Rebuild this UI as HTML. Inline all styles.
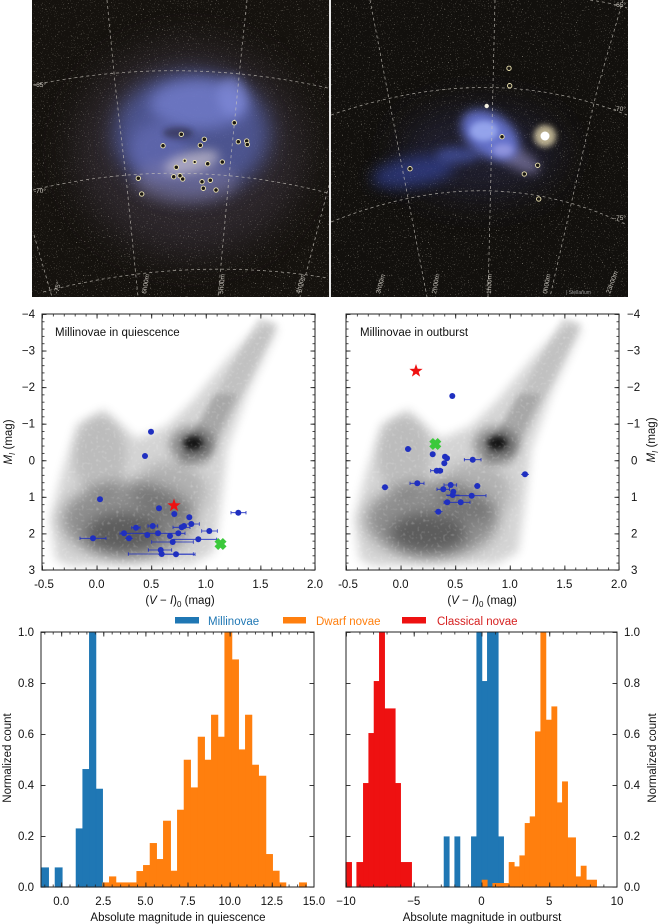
<!DOCTYPE html>
<html><head><meta charset="utf-8"><style>
html,body{margin:0;padding:0;background:#fff;}
svg{display:block;}
text{font-family:"Liberation Sans",Arial,sans-serif;}
</style></head><body>
<svg width="660" height="924" viewBox="0 0 660 924" xmlns="http://www.w3.org/2000/svg">
<defs>
<filter id="b3" x="-50%" y="-50%" width="200%" height="200%"><feGaussianBlur stdDeviation="3"/></filter>
<filter id="b5" x="-50%" y="-50%" width="200%" height="200%"><feGaussianBlur stdDeviation="5"/></filter>
<filter id="b7" x="-50%" y="-50%" width="200%" height="200%"><feGaussianBlur stdDeviation="7"/></filter>
<filter id="b10" x="-50%" y="-50%" width="200%" height="200%"><feGaussianBlur stdDeviation="10"/></filter>
<filter id="b18" x="-50%" y="-50%" width="200%" height="200%"><feGaussianBlur stdDeviation="18"/></filter>
<filter id="stars" x="0" y="0" width="1" height="1">
<feTurbulence type="fractalNoise" baseFrequency="0.85" numOctaves="1" seed="7" result="n"/>
<feColorMatrix in="n" type="matrix" values="0 0 0 0 0.85  0 0 0 0 0.8  0 0 0 0 0.68  6 0 0 0 -3.85"/>
</filter>
<filter id="spk" x="0" y="0" width="1" height="1">
<feTurbulence type="fractalNoise" baseFrequency="0.35" numOctaves="1" seed="3" result="n"/>
<feColorMatrix in="n" type="matrix" values="0 0 0 0 1  0 0 0 0 1  0 0 0 0 1  2.2 0 0 0 -1.2"/>
</filter>
<clipPath id="c1"><rect x="32" y="0" width="297" height="297"/></clipPath>
<clipPath id="c2"><rect x="331" y="0" width="297" height="297"/></clipPath>
<clipPath id="cf"><rect x="0" y="0" width="273" height="256"/></clipPath>

<pattern id="cx1" patternUnits="userSpaceOnUse" x="42" y="0" width="10.92" height="20"><rect width="0.8" height="20" fill="#222"/></pattern>
<pattern id="cx1M" patternUnits="userSpaceOnUse" x="42" y="0" width="54.6" height="20"><rect width="0.9" height="20" fill="#222"/></pattern>
<pattern id="cx2" patternUnits="userSpaceOnUse" x="346" y="0" width="10.92" height="20"><rect width="0.8" height="20" fill="#222"/></pattern>
<pattern id="cx2M" patternUnits="userSpaceOnUse" x="346" y="0" width="54.6" height="20"><rect width="0.9" height="20" fill="#222"/></pattern>
<pattern id="cy" patternUnits="userSpaceOnUse" x="0" y="314" width="20" height="7.314"><rect width="20" height="0.8" fill="#222"/></pattern>
<pattern id="cyM" patternUnits="userSpaceOnUse" x="0" y="314" width="20" height="36.57"><rect width="20" height="0.9" fill="#222"/></pattern>
<pattern id="hx1" patternUnits="userSpaceOnUse" x="61.2" y="0" width="8.425" height="20"><rect width="0.8" height="20" fill="#222"/></pattern>
<pattern id="hx1M" patternUnits="userSpaceOnUse" x="61.2" y="0" width="42.12" height="20"><rect width="0.9" height="20" fill="#222"/></pattern>
<pattern id="hx2" patternUnits="userSpaceOnUse" x="346" y="0" width="13.55" height="20"><rect width="0.8" height="20" fill="#222"/></pattern>
<pattern id="hx2M" patternUnits="userSpaceOnUse" x="346" y="0" width="67.75" height="20"><rect width="0.9" height="20" fill="#222"/></pattern>
<pattern id="hy" patternUnits="userSpaceOnUse" x="0" y="632" width="20" height="51"><rect width="20" height="0.9" fill="#222"/></pattern>

<g id="dens">
 <g clip-path="url(#cf)">
  <path d="M14,246 L8,205 L20,160 L35,110 L62,95 L95,125 L125,112 L150,88 L190,40 L222,6 L236,14 L205,80 L185,135 L180,180 L172,238 L150,250 L30,252 Z" fill="#000" opacity="0.17" filter="url(#b5)"/>
  <ellipse cx="86" cy="206" rx="66" ry="38" fill="#000" opacity="0.32" filter="url(#b7)"/>
  <ellipse cx="82" cy="219" rx="38" ry="20" fill="#000" opacity="0.34" filter="url(#b7)"/>
  <ellipse cx="128" cy="178" rx="36" ry="30" fill="#000" opacity="0.16" filter="url(#b7)"/>
  <ellipse cx="58" cy="142" rx="26" ry="40" fill="#000" opacity="0.1" filter="url(#b5)"/>
  <polygon points="135,152 165,152 236,10 216,4" fill="#000" opacity="0.08" filter="url(#b3)"/>
  <polygon points="138,142 166,142 195,80 172,80" fill="#000" opacity="0.13" filter="url(#b3)"/>
  <ellipse cx="150" cy="131" rx="22" ry="18" fill="#000" opacity="0.35" filter="url(#b5)"/>
  <ellipse cx="151" cy="129" rx="10" ry="7" fill="#000" opacity="0.8" filter="url(#b3)"/>
  <rect x="0" y="0" width="273" height="256" filter="url(#spk)" opacity="0.35"/>
 </g>
</g>
<path id="star" d="M0,-7 L1.65,-2.27 L6.66,-2.16 L2.67,0.87 L4.11,5.66 L0,2.8 L-4.11,5.66 L-2.67,0.87 L-6.66,-2.16 L-1.65,-2.27 Z" fill="#ee1111"/>
<g id="xm"><path d="M-4.2,-4.2 L4.2,4.2 M-4.2,4.2 L4.2,-4.2" stroke="#3bc93b" stroke-width="5.2"/></g>
</defs>

<!-- ================= SKY IMAGE LEFT (LMC) ================= -->
<g clip-path="url(#c1)">
 <rect x="32" y="0" width="297" height="297" fill="#15120e"/>
 <rect x="32" y="0" width="297" height="297" filter="url(#stars)" opacity="0.6"/>
 <ellipse cx="190" cy="150" rx="115" ry="105" fill="#4a4050" opacity="0.45" filter="url(#b18)"/>
 <ellipse cx="192" cy="134" rx="78" ry="62" fill="#5560a8" opacity="0.8" filter="url(#b10)"/>
 <ellipse cx="200" cy="104" rx="50" ry="25" fill="#7f8ae0" opacity="0.6" filter="url(#b7)"/>
 <ellipse cx="232" cy="96" rx="14" ry="20" fill="#8590e0" opacity="0.55" filter="url(#b5)"/>
 <ellipse cx="158" cy="150" rx="28" ry="28" fill="#6a72c0" opacity="0.55" filter="url(#b7)"/>
 <ellipse cx="186" cy="182" rx="52" ry="22" fill="#8c84a8" opacity="0.4" filter="url(#b7)"/>
 <ellipse cx="192" cy="162" rx="28" ry="10" transform="rotate(-15 192 162)" fill="#d8d0d8" opacity="0.6" filter="url(#b5)"/>
 <ellipse cx="178" cy="133" rx="15" ry="6" fill="#1a1820" opacity="0.45" filter="url(#b3)"/>
 <g fill="none" stroke="#c8c4bc" stroke-width="0.8" stroke-dasharray="3,3" opacity="0.75">
  <path d="M33,85 Q180,55 328,88"/>
  <path d="M33,190 Q180,155 328,193"/>
  <path d="M43,292 Q185,255 328,278"/>
  <path d="M107,0 L115,83 L127,187 L138,297"/>
  <path d="M247,0 L240,67 L230,167 L218,297"/>
  <path d="M329,185 L300,297"/>
  <path d="M34,235 L52,297"/>
 </g>
 <g fill="#1a1712" stroke="#efe6b4" stroke-width="0.9">
  <circle cx="234.3" cy="122.7" r="2.2"/><circle cx="181.3" cy="134.3" r="2.2"/><circle cx="204.3" cy="139.3" r="2.2"/>
  <circle cx="200.3" cy="145.3" r="2.2"/><circle cx="163" cy="145.7" r="2.2"/><circle cx="238.3" cy="141.7" r="2.2"/>
  <circle cx="246.7" cy="141" r="2.2"/><circle cx="247.3" cy="144.5" r="2.2"/><circle cx="184.7" cy="160.7" r="1.6"/>
  <circle cx="194.7" cy="162" r="1.6"/><circle cx="207.7" cy="163.7" r="2.2"/><circle cx="222.3" cy="162" r="2.2"/>
  <circle cx="176.3" cy="167.3" r="2.2"/><circle cx="173.7" cy="176.7" r="2.2"/><circle cx="180" cy="175.7" r="2.2"/>
  <circle cx="182.7" cy="179" r="2.2"/><circle cx="138.3" cy="178.3" r="2.2"/><circle cx="202" cy="181.7" r="2.2"/>
  <circle cx="210.3" cy="180.3" r="2.2"/><circle cx="203.3" cy="188.3" r="2.2"/><circle cx="216" cy="190" r="2.2"/>
  <circle cx="141.7" cy="194" r="2.2"/>
 </g>
 <g fill="#c8c4bc" font-size="6.5">
  <text x="34" y="87">-65°</text>
  <text x="34" y="193">-70°</text>
  <text transform="translate(58,294) rotate(-75)">-75°</text>
  <text transform="translate(146,294) rotate(-80)">6h00m</text>
  <text transform="translate(223,294) rotate(-85)">5h00m</text>
  <text transform="translate(300,294) rotate(-75)">4h00m</text>
 </g>
</g>

<!-- ================= SKY IMAGE RIGHT (SMC) ================= -->
<g clip-path="url(#c2)">
 <rect x="331" y="0" width="297" height="297" fill="#12100d"/>
 <rect x="331" y="0" width="297" height="297" filter="url(#stars)" opacity="0.6"/>
 <ellipse cx="480" cy="152" rx="80" ry="45" fill="#2a2a48" opacity="0.55" filter="url(#b18)"/>
 <ellipse cx="413" cy="172" rx="42" ry="15" transform="rotate(-10 413 172)" fill="#3848a8" opacity="0.6" filter="url(#b7)"/>
 <ellipse cx="458" cy="155" rx="22" ry="8" fill="#5060c0" opacity="0.6" filter="url(#b5)"/>
 <ellipse cx="516" cy="158" rx="26" ry="10" transform="rotate(30 516 158)" fill="#807aa8" opacity="0.7" filter="url(#b5)"/>
 <ellipse cx="490" cy="135" rx="32" ry="21" transform="rotate(35 490 135)" fill="#6a78d8" opacity="0.9" filter="url(#b5)"/>
 <ellipse cx="484" cy="131" rx="14" ry="10" fill="#a0b0f4" opacity="0.8" filter="url(#b3)"/>
 <ellipse cx="503" cy="150" rx="10" ry="6" fill="#a8a8e8" opacity="0.6" filter="url(#b3)"/>
 <circle cx="545" cy="136" r="11" fill="#fff0c0" opacity="0.7" filter="url(#b3)"/>
 <circle cx="545" cy="136" r="4.5" fill="#ffffff"/>
 <g fill="none" stroke="#c8c4bc" stroke-width="0.8" stroke-dasharray="3,3" opacity="0.75">
  <path d="M331,115 Q490,60 627,115"/>
  <path d="M331,222 Q490,158 627,225"/>
  <path d="M590,0 Q612,3 627,8"/>
  <path d="M370,0 L427,297"/>
  <path d="M495,0 L488,297"/>
  <path d="M623,0 L597,90 L550,297"/>
 </g>
 <g fill="#1a1712" stroke="#efe6b4" stroke-width="0.9">
  <circle cx="509" cy="68.3" r="2.2"/><circle cx="509.7" cy="85.7" r="2.2"/><circle cx="502" cy="136.7" r="2.2"/>
  <circle cx="537.7" cy="165.3" r="2.2"/><circle cx="524.3" cy="174" r="2.2"/><circle cx="538.7" cy="199" r="2.2"/>
  <circle cx="410" cy="168.7" r="2.2"/>
 </g>
 <circle cx="486.7" cy="106" r="2.2" fill="#f4f0e0"/>
 <g fill="#c8c4bc" font-size="6.5">
  <text x="614" y="7">-65°</text>
  <text x="614" y="111">-70°</text>
  <text x="614" y="220">-75°</text>
  <text transform="translate(380,294) rotate(-75)">3h00m</text>
  <text transform="translate(436,294) rotate(-80)">2h00m</text>
  <text transform="translate(491,294) rotate(-88)">1h00m</text>
  <text transform="translate(547,294) rotate(-80)">0h00m</text>
  <text transform="translate(610,294) rotate(-70)">23h00m</text>
 </g>
 <text x="566" y="294" font-size="5" fill="#999">| Stellarium</text>
</g>
<rect x="329" y="0" width="2" height="297" fill="#e8e8e8"/>

<!-- ================= CMD LEFT ================= -->
<use href="#dens" x="42" y="314"/>
<g fill="#1f2fc0" stroke="#1f2fc0" stroke-width="0.8">
 <path d="M231,512.7 H246 M231,511 V514.4 M246,511 V514.4
 M186.7,524 H199.3 M199.3,522.3 V525.7
 M173,527.3 H190 M173,525.6 V529 M190,525.6 V529
 M148,526 H157.7 M148,524.3 V527.7 M157.7,524.3 V527.7
 M131.7,527.7 H140 M131.7,526 V529.4 M140,526 V529.4
 M201.7,531 H217.3 M201.7,529.3 V532.7 M217.3,529.3 V532.7
 M120,533.3 H185 M120,531.6 V535 M185,531.6 V535
 M80,538.3 H106 M80,536.6 V540 M106,536.6 V540
 M125,538.3 H133
 M151.7,542 H193.3 M151.7,540.3 V543.7 M193.3,540.3 V543.7
 M173.3,539.3 H216.7 M216.7,537.6 V541
 M148.3,550 H171.7 M148.3,548.3 V551.7 M171.7,548.3 V551.7
 M128.3,554 H193.3 M128.3,552.3 V555.7 M193.3,552.3 V555.7
 M158.3,554.3 H195 M195,552.6 V556" fill="none"/>
 <g stroke="none">
 <circle cx="151" cy="431.7" r="3"/><circle cx="145" cy="456" r="3"/><circle cx="100" cy="499.3" r="3"/>
 <circle cx="159" cy="508.3" r="3"/><circle cx="174.3" cy="514" r="3"/><circle cx="189.3" cy="517.3" r="3"/>
 <circle cx="238.3" cy="512.7" r="3"/><circle cx="191.3" cy="524" r="3"/><circle cx="184" cy="526" r="3"/>
 <circle cx="181.7" cy="527.3" r="3"/><circle cx="152.7" cy="526" r="3"/><circle cx="136" cy="527.7" r="3"/>
 <circle cx="209.3" cy="531" r="3"/><circle cx="124" cy="533.3" r="3"/><circle cx="158" cy="533.3" r="3"/>
 <circle cx="178.3" cy="533.3" r="3"/><circle cx="93" cy="538.3" r="3"/><circle cx="129" cy="538.3" r="3"/>
 <circle cx="147.3" cy="535" r="3"/><circle cx="170" cy="536" r="3"/><circle cx="172.7" cy="542" r="3"/>
 <circle cx="198.3" cy="539.3" r="3"/><circle cx="160.7" cy="550" r="3"/><circle cx="161.7" cy="554" r="3"/>
 <circle cx="176" cy="554.3" r="3"/>
 </g>
</g>
<use href="#star" x="174" y="505.5"/>
<use href="#xm" x="220.5" y="544"/>
<rect x="42" y="314" width="273" height="256" fill="none" stroke="#222" stroke-width="1"/>
<rect x="41.6" y="567.5" width="274" height="2.5" fill="url(#cx1)"/>
<rect x="41.6" y="314" width="274" height="2.5" fill="url(#cx1)"/>
<rect x="41.6" y="565.5" width="274" height="4.5" fill="url(#cx1M)"/>
<rect x="41.6" y="314" width="274" height="4.5" fill="url(#cx1M)"/>
<rect x="42" y="313.6" width="2.5" height="257" fill="url(#cy)"/>
<rect x="312.5" y="313.6" width="2.5" height="257" fill="url(#cy)"/>
<rect x="42" y="313.6" width="4.5" height="257" fill="url(#cyM)"/>
<rect x="310.5" y="313.6" width="4.5" height="257" fill="url(#cyM)"/>
<text x="55" y="336" font-size="11.5" fill="#111">Millinovae in quiescence</text>
<g font-size="11.5" fill="#111" text-anchor="end">
 <text x="35" y="318">−4</text><text x="35" y="354.6">−3</text><text x="35" y="391.1">−2</text><text x="35" y="427.7">−1</text>
 <text x="35" y="464.3">0</text><text x="35" y="500.9">1</text><text x="35" y="537.4">2</text><text x="35" y="574">3</text>
</g>
<g font-size="11.5" fill="#111" text-anchor="middle">
 <text x="44" y="588">-0.5</text><text x="96.6" y="588">0.0</text><text x="151.2" y="588">0.5</text>
 <text x="205.8" y="588">1.0</text><text x="260.4" y="588">1.5</text><text x="315" y="588">2.0</text>
 <text x="180" y="604">(<tspan font-style="italic">V</tspan> − <tspan font-style="italic">I</tspan>)<tspan font-size="8" dy="3">0</tspan><tspan dy="-3"> (mag)</tspan></text>
</g>
<text transform="translate(12,442) rotate(-90)" font-size="11.5" fill="#111" text-anchor="middle"><tspan font-style="italic">M</tspan><tspan font-style="italic" font-size="8" dy="3">I</tspan><tspan dy="-3"> (mag)</tspan></text>

<!-- ================= CMD RIGHT ================= -->
<use href="#dens" x="346" y="314"/>
<g fill="#1f2fc0" stroke="#1f2fc0" stroke-width="0.8">
 <path d="M405,449 H411.7
 M442.7,456.7 H448.3
 M464.3,459.7 H481 M464.3,458 V461.4 M481,458 V461.4
 M441.7,463.3 H447.3
 M430.7,470.7 H442.7 M430.7,469 V472.4 M442.7,469 V472.4
 M521,474.3 H529
 M381.7,487.3 H388.3
 M410,483.3 H424 M410,481.6 V485 M424,481.6 V485
 M444,485 H456.7 M444,483.3 V486.7 M456.7,483.3 V486.7
 M474,486 H480.5
 M437,489.3 H449.5 M437,487.6 V491 M449.5,487.6 V491
 M446,495 H459.5
 M446.7,495.7 H486 M486,494 V497.4
 M444,502.3 H470 M444,500.6 V504 M470,500.6 V504
 M434.5,511.7 H442.5" fill="none"/>
 <g stroke="none">
 <circle cx="452.3" cy="396" r="3"/><circle cx="408" cy="449" r="3"/><circle cx="432.7" cy="454.3" r="3"/>
 <circle cx="445" cy="456.7" r="3"/><circle cx="447" cy="458.3" r="3"/><circle cx="472.7" cy="459.7" r="3"/>
 <circle cx="444.3" cy="463.3" r="3"/><circle cx="436.7" cy="470.7" r="3"/><circle cx="440" cy="470.7" r="3"/>
 <circle cx="525" cy="474.3" r="3"/><circle cx="385" cy="487.3" r="3"/><circle cx="417.3" cy="483.3" r="3"/>
 <circle cx="450.7" cy="485" r="3"/><circle cx="477.3" cy="486" r="3"/><circle cx="443.3" cy="489.3" r="3"/>
 <circle cx="453.3" cy="491.7" r="3"/><circle cx="452.7" cy="495" r="3"/><circle cx="471.7" cy="495.7" r="3"/>
 <circle cx="460.7" cy="502.3" r="3"/><circle cx="447.3" cy="502.3" r="3"/><circle cx="438.3" cy="511.7" r="3"/>
 </g>
</g>
<use href="#xm" x="435.3" y="444"/>
<use href="#star" x="416" y="371"/>
<rect x="346" y="314" width="273" height="256" fill="none" stroke="#222" stroke-width="1"/>
<rect x="345.6" y="567.5" width="274" height="2.5" fill="url(#cx2)"/>
<rect x="345.6" y="314" width="274" height="2.5" fill="url(#cx2)"/>
<rect x="345.6" y="565.5" width="274" height="4.5" fill="url(#cx2M)"/>
<rect x="345.6" y="314" width="274" height="4.5" fill="url(#cx2M)"/>
<rect x="346" y="313.6" width="2.5" height="257" fill="url(#cy)"/>
<rect x="616.5" y="313.6" width="2.5" height="257" fill="url(#cy)"/>
<rect x="346" y="313.6" width="4.5" height="257" fill="url(#cyM)"/>
<rect x="614.5" y="313.6" width="4.5" height="257" fill="url(#cyM)"/>
<text x="360" y="336" font-size="11.5" fill="#111">Millinovae in outburst</text>
<g font-size="11.5" fill="#111">
 <text x="627" y="318">−4</text><text x="627" y="354.6">−3</text><text x="627" y="391.1">−2</text><text x="627" y="427.7">−1</text>
 <text x="631" y="464.3">0</text><text x="631" y="500.9">1</text><text x="631" y="537.4">2</text><text x="631" y="574">3</text>
</g>
<g font-size="11.5" fill="#111" text-anchor="middle">
 <text x="348" y="588">-0.5</text><text x="400.6" y="588">0.0</text><text x="455.2" y="588">0.5</text>
 <text x="509.8" y="588">1.0</text><text x="564.4" y="588">1.5</text><text x="619" y="588">2.0</text>
 <text x="482" y="604">(<tspan font-style="italic">V</tspan> − <tspan font-style="italic">I</tspan>)<tspan font-size="8" dy="3">0</tspan><tspan dy="-3"> (mag)</tspan></text>
</g>
<text transform="translate(655,440) rotate(-90)" font-size="11.5" fill="#111" text-anchor="middle"><tspan font-style="italic">M</tspan><tspan font-style="italic" font-size="8" dy="3">I</tspan><tspan dy="-3"> (mag)</tspan></text>

<!-- ================= LEGEND ================= -->
<rect x="175" y="617" width="24" height="6.5" fill="#1f77b4"/>
<text x="208" y="625" font-size="11.5" fill="#1f77b4">Millinovae</text>
<rect x="283" y="617" width="23" height="6.5" fill="#ff7f0e"/>
<text x="316" y="625" font-size="11.5" fill="#ff7f0e">Dwarf novae</text>
<rect x="402" y="617" width="24" height="6.5" fill="#ee1111"/>
<text x="437" y="625" font-size="11.5" fill="#d62020">Classical novae</text>

<!-- ================= HIST LEFT ================= -->
<g transform="translate(0,610) scale(0.33333)">
 <g fill="#1f77b4" stroke="#1f77b4" stroke-width="1.6">
  <rect x="123" y="773" width="23" height="59"/>
  <rect x="165" y="773" width="22" height="59"/>
  <rect x="228" y="656" width="20" height="176"/>
  <rect x="248" y="478" width="20" height="354"/>
  <rect x="268" y="66" width="20" height="766"/>
  <rect x="288" y="537" width="20" height="295"/>
 </g>
 <g fill="#ff7f0e" stroke="#ff7f0e" stroke-width="1.6">
  <rect x="308" y="818" width="20" height="14"/>
  <rect x="328" y="800" width="20" height="32"/>
  <rect x="348" y="818" width="62" height="14"/>
  <rect x="410" y="784" width="20" height="48"/>
  <rect x="430" y="766" width="20" height="66"/>
  <rect x="450" y="700" width="20" height="132"/>
  <rect x="470" y="748" width="20" height="84"/>
  <rect x="490" y="633" width="22" height="199"/>
  <rect x="512" y="783" width="20" height="49"/>
  <rect x="532" y="600" width="20" height="232"/>
  <rect x="552" y="450" width="20" height="382"/>
  <rect x="572" y="533" width="22" height="299"/>
  <rect x="594" y="381" width="20" height="451"/>
  <rect x="614" y="450" width="20" height="382"/>
  <rect x="634" y="315" width="20" height="517"/>
  <rect x="654" y="381" width="20" height="451"/>
  <rect x="674" y="66" width="22" height="766"/>
  <rect x="696" y="149" width="20" height="683"/>
  <rect x="716" y="419" width="20" height="413"/>
  <rect x="736" y="315" width="20" height="517"/>
  <rect x="756" y="465" width="20" height="367"/>
  <rect x="776" y="498" width="22" height="334"/>
  <rect x="798" y="733" width="20" height="99"/>
  <rect x="818" y="783" width="20" height="49"/>
  <rect x="838" y="818" width="20" height="14"/>
  <rect x="898" y="818" width="22" height="14"/>
 </g>
</g>
<rect x="41" y="632" width="273" height="255" fill="none" stroke="#222" stroke-width="1"/>
<rect x="41" y="884.5" width="273" height="2.5" fill="url(#hx1)"/>
<rect x="41" y="632" width="273" height="2.5" fill="url(#hx1)"/>
<rect x="41" y="882.5" width="273" height="4.5" fill="url(#hx1M)"/>
<rect x="41" y="632" width="273" height="4.5" fill="url(#hx1M)"/>
<rect x="41" y="631.6" width="4.5" height="256" fill="url(#hy)"/>
<rect x="309.5" y="631.6" width="4.5" height="256" fill="url(#hy)"/>
<g font-size="11.5" fill="#111" text-anchor="end">
 <text x="34" y="636">1.0</text><text x="34" y="687">0.8</text><text x="34" y="738">0.6</text>
 <text x="34" y="789">0.4</text><text x="34" y="840">0.2</text><text x="34" y="891">0.0</text>
</g>
<g font-size="11.5" fill="#111" text-anchor="middle">
 <text x="61.2" y="905">0.0</text><text x="103.3" y="905">2.5</text><text x="145.4" y="905">5.0</text>
 <text x="187.6" y="905">7.5</text><text x="229.7" y="905">10.0</text><text x="271.8" y="905">12.5</text><text x="313.9" y="905">15.0</text>
 <text x="178" y="921">Absolute magnitude in quiescence</text>
</g>
<text transform="translate(11,758) rotate(-90)" font-size="11.5" fill="#111" text-anchor="middle">Normalized count</text>

<!-- ================= HIST RIGHT ================= -->
<g transform="translate(330,610) scale(0.33333)">
 <g fill="#ee1111" stroke="#ee1111" stroke-width="1.6">
  <rect x="47" y="757" width="18" height="75"/>
  <rect x="80" y="757" width="20" height="75"/>
  <rect x="100" y="520" width="16" height="312"/>
  <rect x="116" y="370" width="16" height="462"/>
  <rect x="132" y="214" width="16" height="618"/>
  <rect x="148" y="66" width="16" height="766"/>
  <rect x="164" y="296" width="32" height="536"/>
  <rect x="196" y="520" width="16" height="312"/>
  <rect x="212" y="757" width="33" height="75"/>
 </g>
 <g fill="#1f77b4" stroke="#1f77b4" stroke-width="1.6">
  <rect x="342" y="680" width="16" height="152"/>
  <rect x="374" y="680" width="16" height="152"/>
  <rect x="424" y="680" width="16" height="152"/>
  <rect x="440" y="66" width="16" height="766"/>
  <rect x="456" y="214" width="16" height="618"/>
  <rect x="472" y="66" width="33" height="766"/>
  <rect x="505" y="680" width="16" height="152"/>
 </g>
 <g fill="#ff7f0e" stroke="#ff7f0e" stroke-width="1.6">
  <rect x="456" y="810" width="16" height="22"/>
  <rect x="488" y="820" width="49" height="12"/>
  <rect x="537" y="757" width="16" height="75"/>
  <rect x="553" y="770" width="16" height="62"/>
  <rect x="569" y="737" width="16" height="95"/>
  <rect x="585" y="640" width="15" height="192"/>
  <rect x="600" y="620" width="16" height="212"/>
  <rect x="616" y="365" width="16" height="467"/>
  <rect x="632" y="66" width="16" height="766"/>
  <rect x="648" y="330" width="17" height="502"/>
  <rect x="665" y="290" width="16" height="542"/>
  <rect x="681" y="578" width="16" height="254"/>
  <rect x="697" y="515" width="16" height="317"/>
  <rect x="713" y="683" width="24" height="149"/>
  <rect x="737" y="800" width="16" height="32"/>
  <rect x="753" y="768" width="16" height="64"/>
  <rect x="769" y="810" width="31" height="22"/>
 </g>
</g>
<rect x="346" y="632" width="271" height="255" fill="none" stroke="#222" stroke-width="1"/>
<rect x="346" y="884.5" width="271.5" height="2.5" fill="url(#hx2)"/>
<rect x="346" y="632" width="271.5" height="2.5" fill="url(#hx2)"/>
<rect x="346" y="882.5" width="271.5" height="4.5" fill="url(#hx2M)"/>
<rect x="346" y="632" width="271.5" height="4.5" fill="url(#hx2M)"/>
<rect x="346" y="631.6" width="4.5" height="256" fill="url(#hy)"/>
<rect x="612.5" y="631.6" width="4.5" height="256" fill="url(#hy)"/>
<g font-size="11.5" fill="#111">
 <text x="624" y="636">1.0</text><text x="624" y="687">0.8</text><text x="624" y="738">0.6</text>
 <text x="624" y="789">0.4</text><text x="624" y="840">0.2</text><text x="624" y="891">0.0</text>
</g>
<g font-size="11.5" fill="#111" text-anchor="middle">
 <text x="346" y="905">−10</text><text x="413.75" y="905">−5</text><text x="481.5" y="905">0</text>
 <text x="549.25" y="905">5</text><text x="617" y="905">10</text>
 <text x="482" y="921">Absolute magnitude in outburst</text>
</g>
<text transform="translate(656,758) rotate(-90)" font-size="11.5" fill="#111" text-anchor="middle">Normalized count</text>
</svg>
</body></html>
